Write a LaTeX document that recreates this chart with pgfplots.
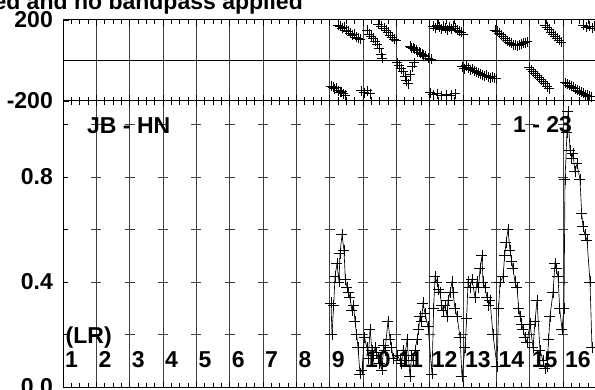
\documentclass[border=0pt]{standalone}
\usepackage{pgfplots}
\pgfplotsset{compat=1.18}
\usepackage{fontspec}
\setmainfont{Liberation Sans}
\begin{document}
\begin{tikzpicture}[x=1pt,y=1pt]
\path[use as bounding box, clip] (0,0) rectangle (595,389);
\pgfplotsset{
  panel/.style={
    scale only axis, width=533.33pt,
    xmin=0, xmax=16, xtick={0,...,16}, xticklabels={},
    minor x tick num=3, xmajorgrids,
    major grid style={black!75, line width=0.9pt},
    tick align=inside, xtick pos=both, ytick pos=left,
    axis line style={black, line width=1pt},
    major tick length=6pt, minor tick length=4pt,
    tick style={black, line width=0.8pt},
    ticklabel style={font=\fontsize{23}{25}\selectfont\bfseries},
    yticklabel style={inner sep=0pt, xshift=-10pt},
  },
  phs/.style={only marks, mark=+, mark size=5pt, mark options={black, line width=0.9pt}},
}
% ---------------- phase panel ----------------
\begin{axis}[panel, at={(63pt,288pt)}, anchor=south west, height=81pt,
  ymin=-200, ymax=200, ytick={-200,200}, yticklabels={-200,200}]
\draw[black, line width=0.7pt] (axis cs:0,0) -- (axis cs:16,0);
% IF 9
\addplot[phs] coordinates {(8.04,-128) (8.10,-132) (8.13,-140) (8.19,-135) (8.25,-150) (8.31,-158) (8.36,-155) (8.40,-165) (8.46,-172)
 (8.25,175) (8.31,168) (8.37,160) (8.43,165) (8.49,150) (8.55,145) (8.61,135) (8.67,125) (8.73,130) (8.79,115) (8.85,110) (8.91,105)};
% IF 10
\addplot[phs] coordinates {(8.94,-150) (9.03,-160) (9.12,-150) (9.21,-165)
 (9.12,150) (9.18,130) (9.24,120) (9.30,110) (9.36,95) (9.42,80) (9.48,60) (9.54,30) (9.57,10)
 (9.45,178) (9.54,170) (9.63,160) (9.69,150) (9.75,140) (9.81,125) (9.87,115) (9.93,105) (9.99,100)};
% IF 11
\addplot[phs] coordinates {(10.02,-10) (10.08,-25) (10.14,-40) (10.20,-55) (10.26,-80) (10.29,-100) (10.35,-115) (10.41,-70) (10.47,-30) (10.53,-10)
 (10.41,70) (10.45,62) (10.50,60) (10.55,55) (10.59,50) (10.64,42) (10.68,40) (10.73,35) (10.77,30) (10.82,25) (10.86,20) (10.95,12) (11.04,5)};
% IF 12
\addplot[phs] coordinates {(11.10,170) (11.16,160) (11.22,175) (11.28,165) (11.34,155) (11.40,170) (11.46,160) (11.52,150) (11.58,165) (11.64,155) (11.70,170) (11.76,160) (11.82,150) (11.88,145) (11.94,140) (12.00,130)
 (11.01,-160) (11.10,-170) (11.22,-165) (11.34,-175) (11.49,-168) (11.64,-172) (11.76,-165)};
% IF 13
\addplot[phs] coordinates {(11.97,-30) (12.03,-40) (12.09,-25) (12.15,-35) (12.21,-45) (12.27,-40) (12.33,-50) (12.39,-55) (12.45,-60) (12.51,-65) (12.57,-70) (12.63,-75) (12.69,-72) (12.75,-80) (12.81,-85) (12.87,-80) (12.93,-88) (12.99,-90)};
% IF 14
\addplot[phs] coordinates {(12.96,150) (13.02,145) (13.08,135) (13.14,128) (13.20,118) (13.26,108) (13.32,98) (13.38,90) (13.44,84) (13.50,78) (13.56,75) (13.62,74) (13.68,76) (13.74,80) (13.80,84) (13.86,88) (13.92,92)};
% IF 15
\addplot[phs] coordinates {(13.98,-35) (14.04,-45) (14.10,-55) (14.16,-65) (14.22,-75) (14.28,-85) (14.34,-95) (14.40,-105) (14.46,-115) (14.52,-130) (14.58,-140)
 (14.46,175) (14.52,165) (14.58,155) (14.64,140) (14.70,130) (14.76,120) (14.82,110) (14.88,100) (14.94,90)};
% IF 16
\addplot[phs] coordinates {(15.06,-110) (15.12,-115) (15.18,-122) (15.24,-128) (15.30,-133) (15.36,-140) (15.42,-146) (15.48,-152) (15.54,-158) (15.60,-162) (15.66,-168) (15.72,-172) (15.78,-176) (15.84,-178)
 (15.60,175) (15.69,165) (15.78,170) (15.87,160) (15.93,168)};
\end{axis}
% ---------------- amplitude panel ----------------
\begin{axis}[panel, at={(63pt,2pt)}, anchor=south west, height=286pt,
  ymin=0, ymax=1.0895, ytick={0,0.2,0.4,0.6,0.8,1.0}, yticklabels={0.0,,0.4,,0.8,},
  major tick length=5pt]
\pgfplotsinvokeforeach{1,...,15}{
  \draw[black!75, line width=0.8pt]
    (axis cs:#1,0.2) ++(-5pt,0) -- ++(10pt,0)
    (axis cs:#1,0.4) ++(-5pt,0) -- ++(10pt,0)
    (axis cs:#1,0.6) ++(-5pt,0) -- ++(10pt,0)
    (axis cs:#1,0.8) ++(-5pt,0) -- ++(10pt,0)
    (axis cs:#1,1.0) ++(-5pt,0) -- ++(10pt,0);
}
\addplot[black, line width=0.65pt, mark=+, mark size=5.5pt, mark options={black, line width=0.75pt, solid}] coordinates {
 (8.04,0.32) (8.07,0.20) (8.12,0.31) (8.16,0.42) (8.22,0.47) (8.28,0.40) (8.31,0.51) (8.37,0.58) (8.43,0.52) (8.47,0.41) (8.52,0.38) (8.57,0.36) (8.61,0.34) (8.67,0.29) (8.72,0.31) (8.76,0.25) (8.81,0.20) (8.85,0.15) (8.91,0.05) (8.97,0.065)
 (9.04,0.19) (9.12,0.15) (9.16,0.11) (9.21,0.22) (9.27,0.14) (9.31,0.12) (9.36,0.15) (9.41,0.13) (9.45,0.11) (9.50,0.09) (9.57,0.065) (9.62,0.16) (9.66,0.14) (9.75,0.25) (9.81,0.18) (9.86,0.15) (9.90,0.11)
 (10.04,0.12) (10.11,0.10) (10.16,0.09) (10.20,0.14) (10.26,0.12) (10.32,0.18) (10.41,0.04) (10.46,0.12) (10.50,0.10) (10.56,0.14) (10.62,0.18) (10.67,0.22) (10.71,0.27) (10.76,0.25) (10.80,0.32) (10.86,0.28) (10.95,0.23)
 (11.07,0.05) (11.12,0.30) (11.16,0.42) (11.22,0.40) (11.27,0.37) (11.31,0.36) (11.36,0.31) (11.40,0.29) (11.46,0.31) (11.52,0.27) (11.55,0.33) (11.61,0.36) (11.67,0.40) (11.70,0.36) (11.76,0.30) (11.82,0.27) (11.91,0.19) (11.97,0.04)
 (12.06,0.15) (12.11,0.26) (12.15,0.40) (12.21,0.38) (12.27,0.41) (12.36,0.34) (12.42,0.40) (12.47,0.38) (12.51,0.45) (12.57,0.50) (12.60,0.40) (12.66,0.38) (12.72,0.34) (12.77,0.31) (12.81,0.33) (12.90,0.20) (13.02,0.08)
 (13.07,0.30) (13.11,0.40) (13.20,0.42) (13.25,0.50) (13.29,0.55) (13.35,0.60) (13.41,0.52) (13.46,0.48) (13.50,0.45) (13.56,0.40) (13.62,0.38) (13.67,0.30) (13.71,0.27) (13.76,0.24) (13.80,0.22) (13.86,0.19) (13.92,0.17)
 (14.01,0.24) (14.10,0.15) (14.16,0.25) (14.22,0.33) (14.31,0.14) (14.40,0.10) (14.46,0.07) (14.52,0.08) (14.57,0.18) (14.61,0.27) (14.70,0.36) (14.76,0.47) (14.80,0.45) (14.85,0.42) (14.90,0.30) (14.97,0.22)
 (15.03,0.30) (15.06,0.79) (15.12,0.97) (15.15,1.05) (15.21,0.90) (15.26,0.87) (15.30,0.89) (15.36,0.82) (15.42,0.85) (15.51,0.79) (15.56,0.66) (15.60,0.61) (15.66,0.58) (15.72,0.56) (15.81,0.40) (15.87,0.15)
};
\end{axis}
% ---------------- texts ----------------
\begin{scope}[every node/.style={inner sep=0pt, font=\fontsize{23}{25}\selectfont\bfseries}]
\node[anchor=base east] at (303,379.5) {ed and no bandpass applied};
\node[anchor=base west] at (87,255) {JB - HN};
\node[anchor=base west] at (513,256) {1 - 23};
\node[anchor=base west] at (65.5,46) {(LR)};
\foreach \i in {1,...,16} {
  \node[anchor=base west] at ({63+33.333*(\i-1)+2},22) {\i};
}
\end{scope}
\end{tikzpicture}
\end{document}
